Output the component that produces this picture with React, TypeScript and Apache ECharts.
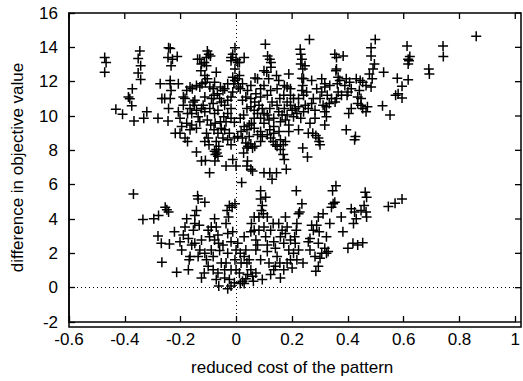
import React, { useEffect, useRef } from "react";
import * as echarts from "echarts";

// Axis ranges / ticks
const xTicks = [-0.6, -0.4, -0.2, 0, 0.2, 0.4, 0.6, 0.8, 1];
const yTicks = [-2, 0, 2, 4, 6, 8, 10, 12, 14, 16];
const xTitle = "reduced cost of the pattern";
const yTitle = "difference in objective value";

// Upper cloud of points (reduced cost, difference in objective value)
const upperCloud: [number, number][] = [
  [-0.472, 13.41], [-0.467, 13.12], [-0.472, 12.55],
  [-0.432, 10.4], [-0.408, 10.1], [-0.387, 11.11], [-0.382, 11.0], [-0.373, 11.59], [-0.375, 10.59],
  [-0.367, 9.71], [-0.332, 9.87], [-0.321, 10.25], [-0.346, 13.79], [-0.352, 13.35], [-0.343, 12.93],
  [-0.352, 12.51], [-0.343, 12.13],
  [-0.281, 9.87], [-0.273, 11.88], [-0.245, 9.71], [-0.267, 11.02], [-0.257, 11.02], [-0.243, 10.44],
  [-0.237, 11.88], [-0.234, 11.49], [-0.237, 12.07], [-0.208, 11.88], [-0.243, 13.98], [-0.237, 13.93],
  [-0.245, 13.41], [-0.229, 13.31], [-0.234, 12.93], [-0.212, 13.47], [-0.237, 11.02], [-0.208, 10.25],
  [-0.219, 9.0], [-0.202, 9.0], [-0.196, 9.39], [-0.184, 8.72], [-0.175, 8.52], [-0.19, 11.11],
  [-0.178, 11.49], [-0.166, 11.69], [-0.158, 11.59], [-0.19, 10.63], [-0.166, 10.44], [-0.175, 10.15],
  [-0.16, 10.15], [-0.149, 10.92], [-0.151, 10.63], [-0.137, 9.96], [-0.131, 9.67], [-0.16, 9.48],
  [-0.143, 9.29], [-0.178, 9.58], [-0.202, 9.87], [-0.143, 11.78], [-0.131, 11.69], [-0.123, 11.88],
  [-0.139, 13.31], [-0.131, 13.31], [-0.125, 13.03], [-0.127, 12.64], [-0.115, 13.12], [-0.113, 12.36],
  [-0.111, 11.97], [-0.104, 13.79], [-0.099, 13.6], [-0.107, 13.41], [-0.107, 12.93], [-0.093, 13.5],
  [-0.072, 12.55], [-0.104, 12.17], [-0.095, 11.69], [-0.083, 11.59], [-0.113, 11.11], [-0.119, 10.63],
  [-0.089, 11.02], [-0.08, 11.21], [-0.068, 11.3], [-0.057, 11.69], [-0.048, 11.49], [-0.113, 10.25],
  [-0.095, 10.44], [-0.078, 10.15], [-0.066, 10.34], [-0.104, 9.77], [-0.092, 9.48], [-0.08, 9.2],
  [-0.107, 9.0], [-0.113, 8.52], [-0.098, 8.33], [-0.072, 8.52], [-0.078, 7.95], [-0.07, 7.84],
  [-0.075, 7.76], [-0.066, 7.66], [-0.077, 7.38], [-0.072, 8.05], [-0.063, 8.24], [-0.143, 7.91],
  [-0.125, 7.38], [-0.111, 7.41], [-0.096, 6.7], [-0.037, 7.09], [-0.013, 7.47], [-0.001, 7.09],
  [0.019, 6.13],
  [-0.054, 10.82], [-0.042, 10.63], [-0.031, 10.92], [-0.019, 11.11], [-0.013, 11.4], [-0.019, 10.44],
  [-0.031, 10.15], [-0.045, 9.96], [-0.057, 9.67], [-0.037, 9.67], [-0.019, 9.87], [-0.007, 9.64],
  [-0.042, 9.2], [-0.025, 9.0], [-0.007, 8.72], [-0.031, 8.62], [-0.019, 13.22], [-0.013, 13.6],
  [-0.005, 13.98], [-0.019, 13.41], [-0.001, 13.28], [0.005, 13.12], [0.011, 13.12], [0.028, 13.41],
  [-0.005, 12.74], [-0.013, 12.26], [-0.005, 12.07], [-0.009, 11.88], [0.005, 12.17], [0.011, 12.36],
  [0.007, 11.69], [0.014, 11.59], [0.022, 10.92], [0.034, 11.11], [0.038, 10.44], [0.026, 10.06],
  [0.014, 9.87], [0.028, 9.39], [0.038, 9.2], [0.046, 9.48], [0.054, 9.58], [0.064, 9.29],
  [0.064, 9.87], [0.034, 8.43], [0.042, 8.24], [0.052, 8.37], [0.058, 8.14], [0.066, 8.24],
  [0.038, 8.14], [0.026, 7.85], [0.04, 7.38], [0.038, 7.09], [0.052, 6.9], [0.058, 6.8],
  [0.076, 8.91], [0.087, 8.52], [0.093, 8.81], [0.099, 6.7], [0.12, 6.7], [0.144, 6.7],
  [0.128, 6.32], [0.179, 6.9], [0.172, 7.47], [0.168, 7.76], [0.158, 8.05], [0.146, 8.24],
  [0.14, 8.33], [0.168, 8.33], [0.176, 8.52], [0.132, 8.52], [0.158, 8.62], [0.123, 8.72],
  [0.111, 8.91], [0.134, 9.0], [0.153, 9.1], [0.188, 9.1], [0.223, 9.2], [0.238, 8.14], [0.255, 7.61],
  [0.076, 12.17], [0.067, 12.22], [0.099, 12.64], [0.109, 12.55], [0.104, 14.18], [0.112, 13.5],
  [0.12, 13.31], [0.124, 13.12], [0.124, 12.84], [0.116, 12.17], [0.099, 11.78], [0.087, 11.59],
  [0.123, 11.49], [0.152, 12.07], [0.144, 12.36], [0.172, 11.78], [0.182, 11.69], [0.194, 11.59],
  [0.188, 12.45], [0.052, 11.02], [0.066, 10.82], [0.081, 10.63], [0.093, 10.44], [0.099, 10.15],
  [0.076, 10.15], [0.064, 10.34], [0.052, 10.54], [0.087, 9.87], [0.111, 10.06], [0.12, 10.44],
  [0.128, 10.82], [0.146, 10.63], [0.156, 11.02], [0.172, 10.44], [0.182, 10.82], [0.194, 10.63],
  [0.2, 10.34], [0.211, 10.44], [0.217, 10.15], [0.205, 11.02], [0.194, 11.21], [0.134, 9.87],
  [0.158, 9.67], [0.176, 9.77], [0.134, 9.39], [0.12, 9.2],
  [0.229, 13.89], [0.262, 14.46], [0.231, 13.6], [0.235, 13.31], [0.231, 13.03], [0.238, 12.74],
  [0.246, 12.93], [0.235, 12.2], [0.241, 12.17], [0.27, 12.07], [0.238, 11.78], [0.235, 11.49],
  [0.241, 11.21], [0.252, 11.4], [0.223, 11.02], [0.247, 10.63], [0.258, 10.44], [0.241, 10.25],
  [0.231, 9.87], [0.27, 10.73], [0.276, 11.02], [0.288, 11.59], [0.306, 11.4], [0.317, 11.69],
  [0.326, 11.21], [0.306, 12.17], [0.317, 11.88], [0.282, 9.87], [0.264, 9.58], [0.258, 9.0],
  [0.274, 9.0], [0.285, 8.87], [0.294, 8.72], [0.3, 8.33], [0.297, 8.52], [0.311, 10.63],
  [0.323, 10.54], [0.317, 10.25], [0.333, 10.73], [0.341, 11.02], [0.323, 9.96], [0.317, 9.48],
  [0.354, 10.82], [0.335, 11.78],
  [0.353, 13.6], [0.359, 13.41], [0.383, 13.5], [0.359, 12.74], [0.357, 12.64], [0.365, 12.26],
  [0.362, 11.88], [0.371, 12.07], [0.394, 12.17], [0.406, 11.97], [0.389, 11.78], [0.365, 11.4],
  [0.377, 11.21], [0.397, 11.21], [0.359, 11.02], [0.4, 11.4], [0.412, 11.59], [0.43, 12.17],
  [0.444, 12.07], [0.453, 11.97], [0.441, 11.49], [0.435, 11.11], [0.447, 11.02], [0.465, 11.78],
  [0.447, 10.63], [0.435, 10.73], [0.453, 10.44], [0.47, 10.54], [0.412, 10.44], [0.403, 10.15],
  [0.465, 10.25], [0.394, 9.2], [0.427, 8.81], [0.424, 8.62], [0.483, 13.98], [0.498, 14.46],
  [0.483, 13.5], [0.495, 13.03], [0.49, 12.74], [0.487, 12.17], [0.483, 11.69], [0.477, 12.45],
  [0.528, 12.55], [0.524, 10.59], [0.551, 10.06],
  [0.577, 12.2], [0.594, 11.74], [0.571, 11.21], [0.58, 11.3], [0.594, 11.05], [0.616, 12.11],
  [0.612, 14.08], [0.616, 13.31], [0.622, 13.47], [0.616, 13.03], [0.619, 13.22], [0.69, 12.74],
  [0.692, 12.45], [0.741, 14.08], [0.742, 13.47], [0.86, 14.65],
  [-0.184, 11.02], [-0.155, 10.82], [-0.125, 10.44], [-0.083, 10.73], [-0.06, 11.02], [-0.076, 9.58],
  [-0.054, 9.29], [-0.066, 9.0], [-0.048, 8.72], [-0.019, 8.33], [0.005, 8.81], [0.017, 9.1],
  [0.022, 8.72], [0.046, 8.81], [0.087, 9.1], [0.099, 9.58], [0.117, 9.77], [0.152, 10.25],
  [0.164, 10.06], [0.052, 11.78], [0.04, 11.49], [0.022, 11.88], [-0.031, 11.88], [-0.042, 11.59],
  [-0.078, 11.97], [-0.143, 10.34], [-0.166, 9.2], [-0.101, 8.72], [0.182, 10.06], [0.188, 9.48],
  [0.205, 9.96], [0.223, 10.54], [0.17, 11.21], [0.146, 11.59], [0.111, 11.21], [0.087, 11.11],
  [0.07, 11.3], [0.282, 10.34], [0.3, 11.02],
];

// Lower cloud of points
const lowerCloud: [number, number][] = [
  [-0.369, 5.46], [-0.335, 3.97], [-0.296, 4.02], [-0.279, 4.21], [-0.255, 4.69], [-0.249, 4.54],
  [-0.243, 4.41], [-0.281, 3.01], [-0.269, 2.59], [-0.24, 2.55], [-0.267, 1.48], [-0.222, 3.26],
  [-0.214, 0.9], [-0.202, 2.68], [-0.196, 2.2], [-0.19, 3.07], [-0.184, 3.54], [-0.178, 4.02],
  [-0.172, 2.87], [-0.166, 1.82], [-0.172, 1.05], [-0.169, 1.63], [-0.16, 2.49], [-0.154, 3.35],
  [-0.149, 3.74], [-0.149, 4.21], [-0.143, 4.5], [-0.139, 5.36], [-0.137, 5.17], [-0.133, 3.64],
  [-0.113, 4.98], [-0.125, 2.78], [-0.131, 2.2], [-0.125, 0.57], [-0.115, 0.86], [-0.107, 1.63],
  [-0.101, 3.35], [-0.096, 2.97], [-0.09, 2.2], [-0.083, 1.82], [-0.078, 4.02], [-0.072, 3.54],
  [-0.066, 3.07], [-0.064, 2.59], [-0.06, 2.16], [-0.054, 1.44], [-0.066, 0.86], [-0.072, 0.48],
  [-0.063, 0.1], [-0.042, 1.05], [-0.037, 1.44], [-0.031, 2.01], [-0.031, 3.16], [-0.037, 3.74],
  [-0.028, 4.12], [-0.033, 4.5], [-0.025, 4.79], [-0.015, 4.69], [-0.005, 4.89], [-0.025, 0.48],
  [-0.031, -0.06], [-0.019, 0.1], [-0.007, 0.29], [-0.001, 1.05], [-0.005, 1.63], [-0.001, 2.2],
  [0.005, 2.59], [0.014, 2.01], [0.017, 1.44], [0.014, 0.25], [0.022, 0.38], [0.028, 0.25],
  [0.034, 0.52], [0.04, 0.77], [0.038, 1.44], [0.046, 1.63], [0.052, 1.05], [0.058, 0.67],
  [0.061, 0.38], [0.07, 0.86], [0.052, 3.26], [0.054, 3.74], [0.064, 3.35], [0.07, 2.78],
  [0.076, 2.49], [0.07, 2.2], [0.087, 1.63], [0.093, 0.48], [0.087, 5.65], [0.087, 5.17],
  [0.093, 4.79], [0.09, 4.5], [0.097, 4.31], [0.081, 4.12], [0.081, 3.35], [0.099, 3.54],
  [0.105, 2.97], [0.111, 2.1], [0.117, 1.44], [0.123, 0.77], [0.134, 1.05], [0.14, 1.25],
  [0.156, 1.44], [0.146, 1.82], [0.14, 2.3], [0.134, 2.68], [0.132, 3.74], [0.158, 2.97],
  [0.164, 3.35], [0.17, 2.59], [0.176, 4.12], [0.182, 3.54], [0.188, 2.2], [0.194, 1.63],
  [0.2, 1.15], [0.158, 0.57], [0.17, 1.05], [0.205, 2.01], [0.211, 2.59], [0.209, 2.97],
  [0.215, 3.35], [0.217, 3.74], [0.223, 4.31], [0.227, 4.41], [0.235, 4.89], [0.215, 5.65],
  [0.239, 1.44], [0.258, 2.68], [0.264, 2.87], [0.27, 3.64], [0.288, 3.64], [0.294, 4.12],
  [0.297, 3.26], [0.294, 2.59], [0.282, 1.82], [0.285, 0.96], [0.294, 1.25], [0.3, 1.72],
  [0.306, 2.01], [0.323, 2.01], [0.329, 2.11], [0.317, 2.3], [0.311, 4.31], [0.335, 3.74],
  [0.341, 4.69], [0.347, 4.89], [0.353, 4.98], [0.345, 5.65], [0.357, 5.94], [0.376, 4.12],
  [0.382, 3.26], [0.4, 2.3], [0.418, 2.59], [0.435, 2.49], [0.453, 2.62], [0.412, 4.6],
  [0.424, 4.41], [0.42, 3.74], [0.43, 4.02], [0.447, 4.5], [0.458, 4.79], [0.465, 4.41],
  [0.462, 5.56], [0.467, 5.27], [0.467, 4.12], [0.545, 4.73], [0.569, 4.92], [0.594, 5.17],
  [-0.09, 3.54], [-0.078, 2.78], [-0.048, 2.49], [-0.019, 2.68], [-0.013, 3.26], [0.028, 2.97],
  [0.034, 2.2], [0.028, 1.82], [0.011, 0.86], [-0.019, 1.05], [-0.042, 0.57], [-0.083, 1.05],
  [-0.101, 1.25], [-0.137, 1.82], [-0.149, 2.59], [-0.113, 2.01], [0.111, 2.49], [0.123, 3.35],
  [0.152, 3.74], [0.176, 3.16], [0.194, 2.78], [0.182, 1.44], [0.217, 1.63], [0.223, 2.2],
  [0.264, 2.2], [0.276, 3.35], [0.323, 2.97], [0.111, 4.12], [0.064, 4.12], [0.105, 5.27],
];

const FONT = "'Liberation Sans', Arial, Helvetica, sans-serif";
const PLUS = "path://M0,5L10,5M5,0L5,10";
const GRID = { left: 69, right: 2, top: 13, bottom: 54 };
const W = 523;
const H = 381;
const TICK_LEN = 6;

export default function App() {
  const ref = useRef<HTMLDivElement>(null);
  useEffect(() => {
    document.body.style.margin = "0";
    if (!ref.current) return;
    const chart = echarts.init(ref.current, undefined, { renderer: "svg" });
    const axisCommon = {
      type: "value" as const,
      axisLine: { show: true, onZero: false, lineStyle: { color: "#000", width: 1.5 } },
      axisTick: { show: true, inside: true, length: TICK_LEN, lineStyle: { color: "#000", width: 1.3 } },
      splitLine: { show: false },
    };
    const frame = {
      type: "rect",
      z: 100,
      silent: true,
      shape: {
        x: GRID.left,
        y: GRID.top,
        width: W - GRID.left - GRID.right,
        height: H - GRID.top - GRID.bottom,
      },
      style: { fill: "none", stroke: "#000", lineWidth: 1.5 },
    };
    chart.setOption({
      animation: false,
      backgroundColor: "#fff",
      grid: { ...GRID, containLabel: false },
      graphic: [frame],
      xAxis: {
        ...axisCommon,
        min: xTicks[0],
        max: xTicks[xTicks.length - 1],
        interval: 0.2,
        position: "bottom",
        axisLabel: { color: "#000", fontSize: 17, fontFamily: FONT, margin: 9 },
        name: xTitle,
        nameLocation: "middle",
        nameGap: 37,
        nameTextStyle: { color: "#000", fontSize: 17, fontFamily: FONT },
      },
      yAxis: {
        ...axisCommon,
        min: yTicks[0],
        max: yTicks[yTicks.length - 1],
        interval: 2,
        position: "left",
        axisLabel: { color: "#000", fontSize: 17, fontFamily: FONT, margin: 11 },
        name: yTitle,
        nameLocation: "middle",
        nameGap: 43,
        nameTextStyle: { color: "#000", fontSize: 17, fontFamily: FONT },
      },
      series: [
        {
          type: "scatter",
          data: upperCloud.concat(lowerCloud),
          symbol: PLUS,
          symbolSize: 10,
          itemStyle: { color: "none", borderColor: "#000", borderWidth: 1.5, opacity: 1 },
          markLine: {
            silent: true,
            symbol: ["none", "none"],
            label: { show: false },
            lineStyle: { color: "#000", type: [1, 3], width: 1 },
            data: [{ xAxis: 0 }, { yAxis: 0 }],
          },
        },
      ],
    });
    // Mirror ticks on the top and right edges of the frame (gnuplot style),
    // positioned through the axes' own scales.
    const top = GRID.top;
    const right = W - GRID.right;
    const tickStyle = { stroke: "#000", lineWidth: 1.3 };
    const topTicks = xTicks.map((v) => {
      const px = chart.convertToPixel({ xAxisIndex: 0 }, v) as number;
      return { type: "line", silent: true, z: 100, shape: { x1: px, y1: top, x2: px, y2: top + TICK_LEN }, style: tickStyle };
    });
    const rightTicks = yTicks.map((v) => {
      const py = chart.convertToPixel({ yAxisIndex: 0 }, v) as number;
      return { type: "line", silent: true, z: 100, shape: { x1: right - TICK_LEN, y1: py, x2: right, y2: py }, style: tickStyle };
    });
    chart.setOption({ graphic: [frame, ...topTicks, ...rightTicks] });
    return () => chart.dispose();
  }, []);
  return <div ref={ref} style={{ width: W, height: H }} />;
}
